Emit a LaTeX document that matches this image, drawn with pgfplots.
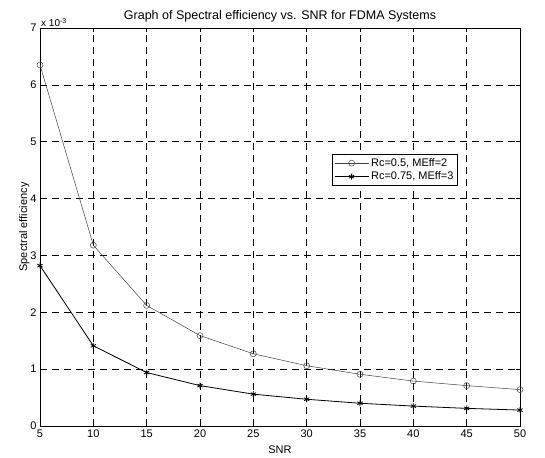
\documentclass[border=0pt]{standalone}
\usepackage{pgfplots}
\pgfplotsset{compat=1.18}
\usepackage{fontspec}
\setmainfont{Liberation Sans}
\begin{document}
\begin{tikzpicture}
\begin{axis}[
  name=ax,
  scale only axis,
  clip mode=individual,
  width=480pt, height=398pt,
  xmin=5, xmax=50, ymin=0, ymax=7,
  xtick={5,10,...,50},
  ytick={0,1,...,7},
  grid=major,
  major grid style={black, dashed, dash pattern=on 7pt off 5pt, line width=0.5pt},
  axis line style={black, line width=0.8pt},
  tick align=inside,
  tick style={black, line width=0.5pt},
  major tick length=4pt,
  xtick pos=both, ytick pos=both,
  font=\fontsize{11}{13}\selectfont,
  /pgf/number format/assume math mode=true,
  ticklabel style={font=\fontsize{11}{13}\selectfont},
  title={Graph of Spectral efficiency vs. SNR for FDMA Systems},
  title style={font=\fontsize{12.5}{14}\selectfont, yshift=-4pt},
  xlabel={SNR},
  ylabel={Spectral efficiency},
  xlabel style={yshift=-2pt},
  ylabel style={yshift=-6pt},
  legend style={at={(0.608,0.683)}, anchor=north west, draw=black, line width=0.6pt,
    font=\fontsize{11}{13}\selectfont, inner sep=2pt, row sep=0pt},
  legend cell align=left,
  legend image code/.code={
    \draw[mark repeat=2,mark phase=2,#1] plot coordinates {(0cm,0cm) (0.6cm,0cm) (1.2cm,0cm)};
  },
]
\addplot[black!75, line width=0.5pt, mark=o, mark size=3pt, mark options={solid, black!75}]
coordinates {(5,6.35) (10,3.18) (15,2.12) (20,1.59) (25,1.27) (30,1.06) (35,0.91) (40,0.79) (45,0.71) (50,0.64)};
\addlegendentry{Rc=0.5, MEff=2}
\addplot[black, line width=0.8pt, mark=asterisk, mark size=3pt, mark options={solid, black}]
coordinates {(5,2.82) (10,1.41) (15,0.94) (20,0.71) (25,0.56) (30,0.47) (35,0.40) (40,0.35) (45,0.31) (50,0.28)};
\addlegendentry{Rc=0.75, MEff=3}
\node[anchor=south west, inner sep=1pt, font=\fontsize{10}{11}\selectfont] at (rel axis cs:0,1) {x 10\textsuperscript{-3}};
\end{axis}
\path ([xshift=-40pt,yshift=-30pt]ax.south west) rectangle ([xshift=25pt,yshift=28pt]ax.north east);
\end{tikzpicture}
\end{document}
